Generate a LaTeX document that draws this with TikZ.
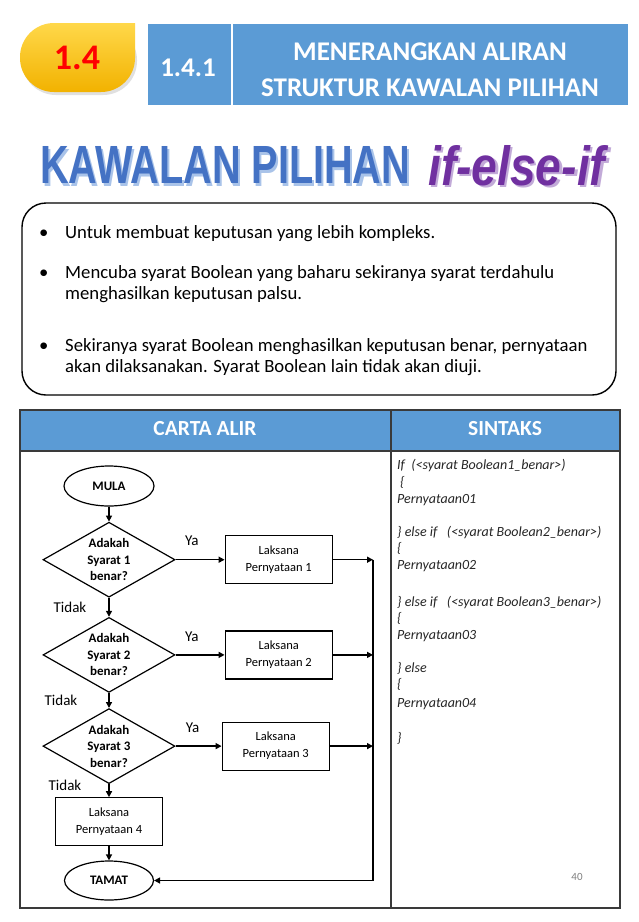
\documentclass[tikz,border=0pt]{standalone}
\usepackage{fontspec}
\setmainfont{Carlito}
\newfontfamily\wordart{Liberation Sans}
\usepackage{graphicx}
\usetikzlibrary{arrows.meta,positioning,shapes.geometric,calc}

\definecolor{hdrblue}{HTML}{5B9BD5}
\definecolor{artblue}{HTML}{4472C4}
\definecolor{artshade}{HTML}{A9C3E9}
\definecolor{artpurple}{HTML}{7030A0}
\definecolor{purpleshade}{HTML}{C2AAD8}
\definecolor{badgetop}{HTML}{FFD84A}
\definecolor{badgebot}{HTML}{F2B200}
\definecolor{rulegray}{HTML}{3A3A3A}

% word art with a soft drop shadow
\newcommand{\shadowart}[2]{\rlap{\kern0.7pt\raisebox{-0.5pt}{\textcolor{#1}{#2}}}#2}

\begin{document}
\begin{tikzpicture}[
  x=1pt, y=-1pt,
  font=\fontsize{13}{16.5}\selectfont,
  decision/.style={draw, line width=1.2pt, diamond, shape aspect=1.76, inner sep=0pt, minimum width=132pt, minimum height=75pt, align=center, font=\fontsize{13}{16.5}\selectfont\bfseries},
  terminal/.style={draw, line width=1.2pt, ellipse, minimum width=90pt, minimum height=40pt, inner sep=0pt, font=\fontsize{13}{16}\selectfont\bfseries},
  stmt/.style={draw, line width=1.2pt, rectangle, minimum width=107pt, minimum height=48pt, inner sep=0pt, align=center, font=\fontsize{12.5}{17}\selectfont},
  arr/.style={-{Triangle[length=6pt,width=6pt]}, line width=1.4pt},
  lbl/.style={inner sep=0pt, font=\fontsize{15}{18}\selectfont},
  code/.style={anchor=base west, inner sep=0pt, font=\fontsize{14}{16}\selectfont\itshape, text=black!85},
  bullet/.style={anchor=base west, inner sep=0pt, align=left, font=\fontsize{18.7}{21}\selectfont}
]
  \useasboundingbox[fill=white] (0,0) rectangle (638,922);

  % badge and header bar
  \fill[black!12] [rounded corners=34pt] (22,26) rectangle (137,95);
  \shade[top color=badgetop, bottom color=badgebot] [rounded corners=34pt] (20,23) rectangle (135,92) [sharp corners] (78,23) rectangle (135,58);
  \node[text=red, font=\fontsize{36}{40}\selectfont\bfseries] (badgeno) at (77,58) {1.4};

  \fill[hdrblue] (148,24) rectangle (628,105);
  \draw[white, line width=1.5pt] (232,24) -- (232,105);
  \node[text=white, font=\fontsize{27}{36}\selectfont\bfseries] (subno) at (188,68) {1.4.1};
  \node[text=white, align=center, font=\fontsize{27}{36}\selectfont\bfseries] (title) at (430,69.5) {MENERANGKAN ALIRAN\\STRUKTUR KAWALAN PILIHAN};

  % word art heading
  \node[anchor=west, inner sep=0pt, text=artblue] (art) at (40,166.5) {\resizebox{370pt}{37pt}{\wordart\bfseries\shadowart{artshade}{KAWALAN PILIHAN}}};
  \node[anchor=west, inner sep=0pt, text=artpurple] (ifart) at (428,166.5) {\resizebox{177pt}{40pt}{\wordart\bfseries\itshape\shadowart{purpleshade}{if-else-if}}};

  % notes box
  \draw[line width=1.4pt, rounded corners=24pt] (22,203) rectangle (616,395);
  \node[bullet] (b1) at (39,238) {•};
  \node[bullet] (t1) at (65,238) {Untuk membuat keputusan yang lebih kompleks.};
  \node[bullet] (b2) at (39,278) {•};
  \node[bullet] (t2) at (65,299) {Mencuba syarat Boolean yang baharu sekiranya syarat terdahulu\\menghasilkan keputusan palsu.};
  \node[bullet] (b3) at (39,351) {•};
  \node[bullet] (t3) at (65,372) {Sekiranya syarat Boolean menghasilkan keputusan benar, pernyataan\\akan dilaksanakan. Syarat Boolean lain tidak akan diuji.};

  % table
  \fill[hdrblue] (20,410) rectangle (620,451);
  \draw[rulegray, line width=1.3pt] (20,410) rectangle (620,908);
  \draw[rulegray, line width=1.3pt] (20,451) -- (620,451);
  \draw[rulegray, line width=1.3pt] (391,410) -- (391,908);
  \node[text=white, font=\fontsize{21.5}{24}\selectfont\bfseries] (hcarta) at (205,429) {CARTA ALIR};
  \node[text=white, font=\fontsize{21.5}{24}\selectfont\bfseries] (hsintaks) at (505,429) {SINTAKS};

  % syntax column
  \foreach \yy/\txt in {465/{If\ \ (<syarat Boolean1\_benar>)}, 482/{\hspace{3pt}\{}, 499/{Pernyataan01},
      532/{\} else if\ \ \ (<syarat Boolean2\_benar>)}, 548/{\{}, 565/{Pernyataan02},
      602/{\} else if\ \ \ (<syarat Boolean3\_benar>)}, 618/{\{}, 635/{Pernyataan03},
      668/{\} else}, 684/{\{}, 703/{Pernyataan04}, 738/{\}}}
    \node[code] at (397,\yy+4.5) {\txt};
  \node[text=black!50, font=\fontsize{11}{12}\selectfont] (pgno) at (577,877) {40};

  % flowchart
  \node[terminal] (mula) at (109,486) {MULA};
  \node[decision, below=15pt of mula] (d1) {Adakah\\Syarat 1\\benar?};
  \node[decision, below=19pt of d1] (d2) {Adakah\\Syarat 2\\benar?};
  \node[decision, below=15pt of d2] (d3) {Adakah\\Syarat 3\\benar?};
  \node[stmt, below=13pt of d3] (p4) {Laksana\\Pernyataan 4};
  \node[terminal, minimum width=89pt, minimum height=39pt, below=14pt of p4] (tamat) {TAMAT};

  \node[stmt, right=49pt of d1] (p1) {Laksana\\Pernyataan 1};
  \node[stmt, right=49pt of d2] (p2) {Laksana\\Pernyataan 2};
  \node[stmt, right=46pt of d3] (p3) {Laksana\\Pernyataan 3};
  \coordinate (bus) at (373,560);

  \draw[arr] (mula) -- (d1);
  \draw[arr] (d1) -- node[lbl, left=22pt] (tidak1) {Tidak} (d2);
  \draw[arr] (d2) -- node[lbl, left=31pt] (tidak2) {Tidak} (d3);
  \draw[arr] (d3) -- node[lbl, left=27pt, yshift=5pt] (tidak3) {Tidak} (p4);
  \draw[arr] (p4) -- (tamat);

  \draw[arr] (d1) -- node[lbl, above=13pt, pos=0.33] (ya1) {Ya} (p1);
  \draw[arr] (d2) -- node[lbl, above=13pt, pos=0.33] (ya2) {Ya} (p2);
  \draw[arr] (d3) -- node[lbl, above=13pt, pos=0.37] (ya3) {Ya} (p3);

  \draw[arr] (p1.east) -- (p1.east -| bus);
  \draw[arr] (p2.east) -- (p2.east -| bus);
  \draw[arr] (p3.east) -- (p3.east -| bus);
  \draw[arr] (p1.east -| bus) -- (bus |- tamat) -- (tamat.east);
\end{tikzpicture}
\end{document}
